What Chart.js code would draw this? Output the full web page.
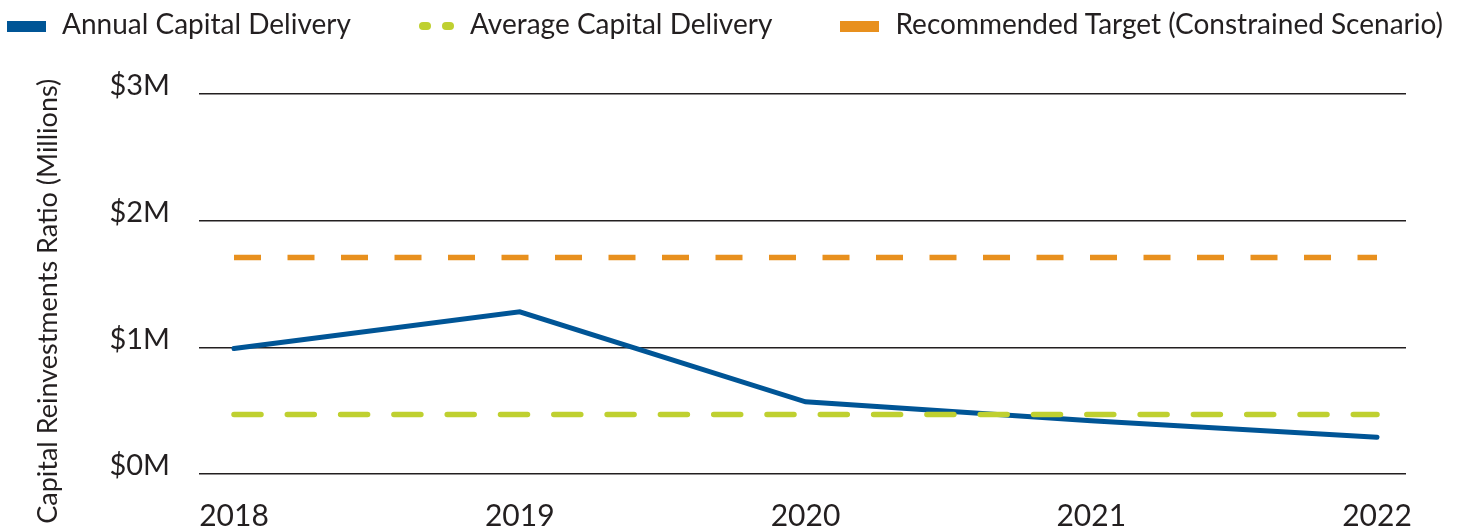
<!DOCTYPE html>
<html>
<head>
<meta charset="utf-8">
<script src="https://cdn.jsdelivr.net/npm/chart.js@4.4.1/dist/chart.umd.min.js"></script>
<style>
    body { margin: 0; background: #fff; }
    #wrap { position: relative; width: 1465px; height: 530px; }
    #legend {
        position: absolute; top: 9px; left: 7px; right: 22px;
        display: flex; justify-content: space-between; align-items: center;
        font-family: Lato, sans-serif; font-size: 28px; line-height: 28px; color: #231f20;
    }
    .legend-item { display: flex; align-items: center; white-space: nowrap; }
    .legend-marker { position: relative; top: 3px; margin-right: 16px; display: flex; }
    .legend-marker.solid { width: 39px; height: 11px; }
    .legend-marker.dashed span { width: 12px; height: 7.5px; border-radius: 4px; margin-right: 11px; }
    .legend-marker.dashed span:last-child { margin-right: 0; }
</style>
</head>
<body>
<div id="wrap">
    <canvas id="chart" width="1465" height="530"></canvas>
    <div id="legend"></div>
</div>
<script>
const years = [2018, 2019, 2020, 2021, 2022];
const annualDelivery = [0.99, 1.28, 0.57, 0.42, 0.29];
const averageDelivery = [0.47, 0.47, 0.47, 0.47, 0.47];
const recommendedTarget = [1.71, 1.71, 1.71, 1.71, 1.71];
const seriesNames = ['Annual Capital Delivery', 'Average Capital Delivery', 'Recommended Target (Constrained Scenario)'];
const yTickLabels = ['$0M', '$1M', '$2M', '$3M'];
const yAxisTitle = 'Capital Reinvestments Ratio (Millions)';

const textColor = '#231f20';
const blue = '#005596';
const green = '#bfd030';
const orange = '#e8901e';

const points = values => years.map((year, i) => ({ x: year, y: values[i] }));

// legend drawn as html, built from the datasets
const htmlLegend = {
    id: 'htmlLegend',
    afterUpdate(chart) {
        const box = document.getElementById('legend');
        box.innerHTML = '';
        chart.data.datasets
            .map((ds, i) => ({ ds, i }))
            .sort((a, b) => a.ds.legendOrder - b.ds.legendOrder)
            .forEach(({ ds }) => {
                const item = document.createElement('div');
                item.className = 'legend-item';
                const marker = document.createElement('div');
                if (ds.borderCapStyle === 'round' && ds.borderDash) {
                    marker.className = 'legend-marker dashed';
                    marker.innerHTML = '<span></span><span></span>';
                    marker.querySelectorAll('span').forEach(s => s.style.background = ds.borderColor);
                } else {
                    marker.className = 'legend-marker solid';
                    marker.style.background = ds.borderColor;
                }
                const label = document.createElement('span');
                label.textContent = ds.label;
                item.appendChild(marker);
                item.appendChild(label);
                box.appendChild(item);
            });
    }
};

new Chart(document.getElementById('chart'), {
    type: 'line',
    data: {
        datasets: [
            {
                label: seriesNames[1],
                data: points(averageDelivery),
                borderColor: green,
                borderWidth: 5.5,
                borderDash: [27, 26.3],
                borderCapStyle: 'round',
                pointRadius: 0,
                order: 0,
                legendOrder: 1
            },
            {
                label: seriesNames[0],
                data: points(annualDelivery),
                borderColor: blue,
                borderWidth: 5,
                borderCapStyle: 'round',
                pointRadius: 0,
                order: 1,
                legendOrder: 0
            },
            {
                label: seriesNames[2],
                data: points(recommendedTarget),
                borderColor: orange,
                borderWidth: 5.5,
                borderDash: [27, 26.5],
                borderCapStyle: 'butt',
                pointRadius: 0,
                order: 2,
                legendOrder: 2
            }
        ]
    },
    options: {
        responsive: false,
        animation: false,
        layout: { padding: { top: 94, right: 59, bottom: 0, left: 0 } },
        plugins: {
            legend: { display: false },
            tooltip: { enabled: false }
        },
        scales: {
            x: {
                type: 'linear',
                min: years[0] - 0.1225,
                max: years[years.length - 1] + 0.1015,
                afterBuildTicks: scale => { scale.ticks = years.map(v => ({ value: v })); },
                afterFit: scale => { scale.height = 56; },
                grid: { display: false, drawTicks: false },
                border: { display: false },
                ticks: {
                    autoSkip: false,
                    maxRotation: 0,
                    padding: 24,
                    color: textColor,
                    font: { family: 'Lato', size: 30 },
                    callback: v => String(v)
                }
            },
            y: {
                min: 0,
                max: 3,
                afterFit: scale => { scale.width = 199; },
                grid: { color: textColor, lineWidth: 1.5, drawTicks: false },
                border: { display: false },
                ticks: {
                    stepSize: 1,
                    padding: 29,
                    labelOffset: -8,
                    color: textColor,
                    font: { family: 'Lato', size: 29 },
                    callback: (v, i) => yTickLabels[i]
                },
                title: {
                    display: true,
                    // trailing spaces push the rotated title down a little
                    text: yAxisTitle + '     ',
                    color: textColor,
                    font: { family: 'Lato', size: 27 },
                    padding: { top: 32, bottom: 0 }
                }
            }
        }
    },
    plugins: [htmlLegend]
});
</script>
</body>
</html>
